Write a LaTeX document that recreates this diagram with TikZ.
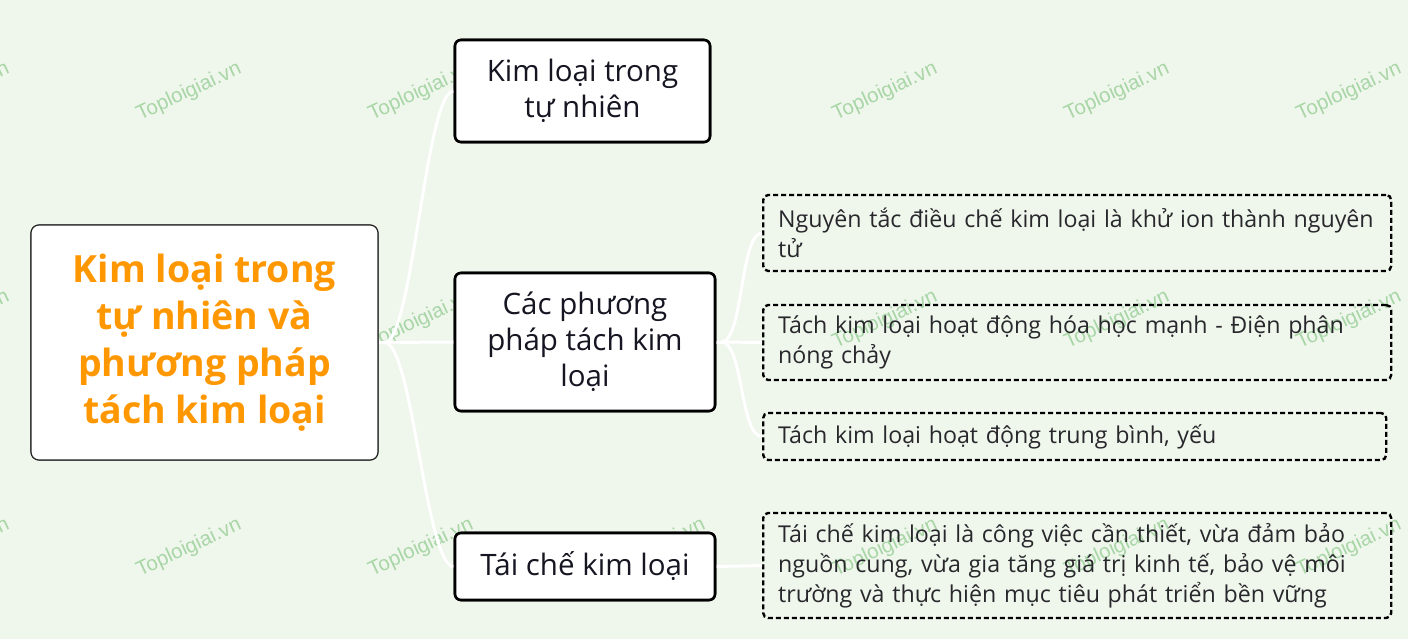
\documentclass[tikz,border=0pt]{standalone}
\usepackage{fontspec}
\setmainfont{Open Sans}
\newfontfamily\wmfont{Liberation Sans}
\definecolor{bg}{RGB}{239,246,236}
\definecolor{orangetxt}{RGB}{255,152,0}
\definecolor{wmgreen}{RGB}{168,214,166}
\definecolor{txt}{RGB}{22,22,34}
\definecolor{txtb}{RGB}{40,40,44}
\begin{document}
\begin{tikzpicture}[x=1pt,y=-1pt,
  wm/.style={font=\wmfont\fontsize{20.5}{24}\selectfont, text=wmgreen, rotate=25, inner sep=0},
  rootbox/.style={draw=black!85, line width=1.1pt, fill=white, rounded corners=8pt, inner sep=0, align=center, text=orangetxt, font=\fontsize{37.5}{47}\selectfont\bfseries},
  topic/.style={draw=black, line width=2.6pt, fill=white, rounded corners=6pt, inner sep=0, align=center, text=txt, font=\fontsize{29.5}{36}\selectfont},
  detail/.style={draw=black, line width=2.4pt, dash pattern=on 5pt off 3pt, rounded corners=5pt, inner xsep=15pt, inner ysep=0, align=left, text=txtb, font=\fontsize{23.2}{30}\selectfont, anchor=west},
  link/.style={draw=white, line width=3pt}
]
\path[fill=bg] (0,0) rectangle (1408,639);
\useasboundingbox (0,0) rectangle (1408,639);
% watermarks
\foreach \wx in {-43,189,421,653,885,1117,1349}{
  \foreach \wy in {92,320,548}{
    \node[wm] (w\wx\wy) at (\wx,\wy) {Toploigiai.vn};
  }
}
% nodes
\node[rootbox, minimum width=347pt, minimum height=235pt] (root) at (204.5,342.5) {Kim loại trong\\tự nhiên và\\phương pháp\\tách kim loại};
\node[topic, minimum width=255pt, minimum height=102pt] (a) at (582.5,91) {Kim loại trong\\tự nhiên};
\node[topic, minimum width=260pt, minimum height=138pt] (b) at (585,342) {Các phương\\pháp tách kim\\loại};
\node[topic, minimum width=260pt, minimum height=67pt] (c) at (585,566.5) {Tái chế kim loại};
\node[detail, minimum width=628pt, minimum height=76pt, text width=598pt] (d1) at (762,233) {\mbox{Nguyên tắc điều chế kim loại là khử ion thành nguyên}\\tử};
\node[detail, minimum width=628pt, minimum height=75pt, text width=598pt] (d2) at (762,342.5) {\mbox{Tách kim loại hoạt động hóa học mạnh - Điện phân}\\nóng chảy};
\node[detail, minimum width=623pt, minimum height=47pt, text width=593pt] (d3) at (762,436.5) {Tách kim loại hoạt động trung bình, yếu};
\node[detail, minimum width=628pt, minimum height=105pt, text width=598pt] (d4) at (762,565.5) {\mbox{Tái chế kim loại là công việc cần thiết, vừa đảm bảo}\\\mbox{nguồn cung, vừa gia tăng giá trị kinh tế, bảo vệ môi}\\\mbox{trường và thực hiện mục tiêu phát triển bền vững}};
% connectors
\coordinate (r0) at ([xshift=6pt]root.east);
\coordinate (b0) at ([xshift=5pt]b.east);
\draw[link] (root.east) -- (r0);
\draw[link] (r0) .. controls +(28,0) and +(-28,0) .. (a.west);
\draw[link] (r0) -- (b.west);
\draw[link] (r0) .. controls +(28,0) and +(-28,0) .. (c.west);
\draw[link] (b.east) -- (b0);
\draw[link] (b0) .. controls +(22,0) and +(-22,0) .. (d1.west);
\draw[link] (b0) -- (d2.west);
\draw[link] (b0) .. controls +(22,0) and +(-22,0) .. (d3.west);
\draw[link] (c.east) -- (d4.west);
% redraw boxes on top of links
\node[rootbox, minimum width=347pt, minimum height=235pt] at (root) {Kim loại trong\\tự nhiên và\\phương pháp\\tách kim loại};
\node[topic, minimum width=255pt, minimum height=102pt] at (a) {Kim loại trong\\tự nhiên};
\node[topic, minimum width=260pt, minimum height=138pt] at (b) {Các phương\\pháp tách kim\\loại};
\node[topic, minimum width=260pt, minimum height=67pt] at (c) {Tái chế kim loại};
\end{tikzpicture}
\end{document}
